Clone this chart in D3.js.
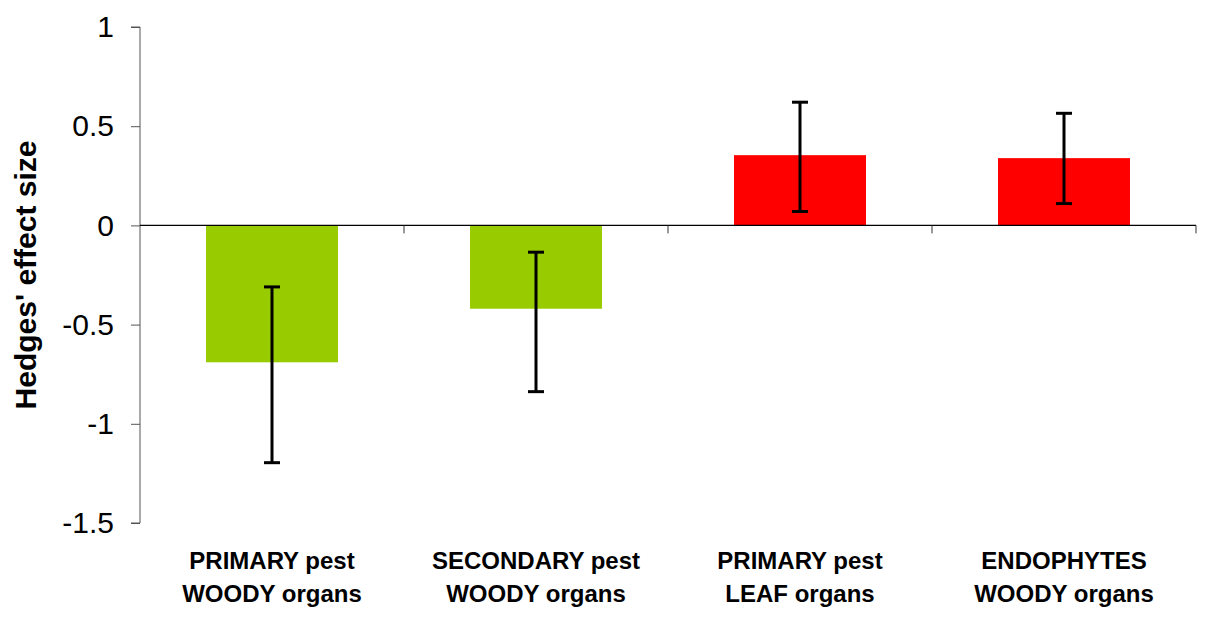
<!DOCTYPE html>
<html>
<head>
<meta charset="utf-8">
<script src="https://cdn.jsdelivr.net/npm/d3@7"></script>
<style>
  html, body { margin: 0; padding: 0; background: #fff; }
  svg { display: block; font-family: "Liberation Sans", Arial, sans-serif; }
</style>
</head>
<body>
<svg id="chart" width="1211" height="620"></svg>
<script>
// Effect sizes (Hedges' g) with confidence limits per group
const categories = ["PRIMARY pest|WOODY organs", "SECONDARY pest|WOODY organs", "PRIMARY pest|LEAF organs", "ENDOPHYTES|WOODY organs"];
const effectSizes = [-0.69, -0.42, 0.354, 0.339];
const lowerCI = [-1.196, -0.838, 0.07, 0.11];
const upperCI = [-0.31, -0.135, 0.621, 0.565];
const barColors = ["#99cc00", "#99cc00", "#ff0000", "#ff0000"];
const yTicks = [1, 0.5, 0, -0.5, -1, -1.5];
const yTitle = "Hedges' effect size";

const svg = d3.select("#chart");
const margin = { left: 140, right: 15, top: 27, bottom: 97 };
const W = 1211, H = 620;

const x = d3.scaleBand()
  .domain(d3.range(categories.length))
  .range([margin.left, W - margin.right])
  .paddingInner(0.5).paddingOuter(0.25);

const y = d3.scaleLinear()
  .domain([-1.5, 1])
  .range([H - margin.bottom, margin.top]);

// Bars
svg.append("g").selectAll("rect")
  .data(effectSizes)
  .join("rect")
  .attr("x", (d, i) => x(i))
  .attr("width", x.bandwidth())
  .attr("y", d => y(Math.max(0, d)))
  .attr("height", d => Math.abs(y(d) - y(0)))
  .attr("fill", (d, i) => barColors[i]);

// Y axis
const yAxis = svg.append("g")
  .attr("transform", `translate(${margin.left},0)`)
  .call(d3.axisLeft(y).tickValues(yTicks).tickSize(9).tickPadding(17)
    .tickFormat(d => String(d)));
yAxis.select(".domain").attr("stroke", "#555").attr("d", `M-9,${y(1)}H0V${y(-1.5)}H-9`);
yAxis.selectAll(".tick line").attr("stroke", "#555");
yAxis.selectAll(".tick text")
  .attr("font-size", 30).attr("fill", "#000")
  .attr("font-family", "'Liberation Sans', Arial, sans-serif");

// X axis along zero line, tick marks at band boundaries
const bounds = d3.range(categories.length + 1).map(i =>
  i < categories.length ? x(i) - x.step() * x.paddingInner() / 2 : x(i - 1) + x.bandwidth() + x.step() * x.paddingInner() / 2);
const xg = svg.append("g");
xg.append("line")
  .attr("x1", margin.left).attr("x2", bounds[bounds.length - 1])
  .attr("y1", y(0)).attr("y2", y(0))
  .attr("stroke", "#000").attr("stroke-width", 1.3);
xg.selectAll("line.tick")
  .data(bounds.slice(1))
  .join("line").attr("class", "tick")
  .attr("x1", d => d).attr("x2", d => d)
  .attr("y1", y(0)).attr("y2", y(0) + 8)
  .attr("stroke", "#333");

// Error bars
const eb = svg.append("g").attr("stroke", "#000").attr("stroke-width", 3);
effectSizes.forEach((d, i) => {
  const cx = x(i) + x.bandwidth() / 2;
  eb.append("line").attr("x1", cx).attr("x2", cx).attr("y1", y(upperCI[i])).attr("y2", y(lowerCI[i]));
  eb.append("line").attr("x1", cx - 8).attr("x2", cx + 8).attr("y1", y(upperCI[i])).attr("y2", y(upperCI[i]));
  eb.append("line").attr("x1", cx - 8).attr("x2", cx + 8).attr("y1", y(lowerCI[i])).attr("y2", y(lowerCI[i]));
});

// Category labels
const lab = svg.append("g")
  .attr("font-size", 24).attr("font-weight", "bold")
  .attr("text-anchor", "middle").attr("fill", "#000");
categories.forEach((c, i) => {
  const cx = x(i) + x.bandwidth() / 2;
  const t = lab.append("text").attr("x", cx).attr("y", 569);
  c.split("|").forEach((line, k) => {
    t.append("tspan").attr("x", cx).attr("dy", k === 0 ? 0 : 33).text(line);
  });
});

// Y title
svg.append("text")
  .attr("transform", `translate(36,${(y(1) + y(-1.5)) / 2}) rotate(-90)`)
  .attr("text-anchor", "middle")
  .attr("font-size", 30).attr("font-weight", "bold")
  .text(yTitle);
</script>
</body>
</html>
